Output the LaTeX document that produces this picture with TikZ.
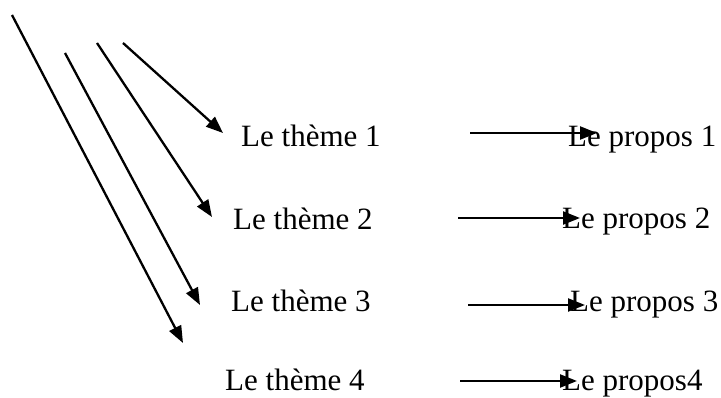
\documentclass[tikz,border=0pt]{standalone}
\usepackage{fontspec}
\setmainfont{Liberation Serif}
\usetikzlibrary{arrows.meta}
\begin{document}
\begin{tikzpicture}[x=1pt,y=-1pt,
  label/.style={anchor=base west,inner sep=0pt,font=\fontsize{31}{36}\selectfont},
  link/.style={line width=2.3pt,-{Triangle[length=17pt,width=13pt]}}]
\useasboundingbox (0,0) rectangle (721,398);
% themes and their propos
\node[label] (t1) at (241,147) {Le thème 1};
\node[label] (t2) at (233,230) {Le thème 2};
\node[label] (t3) at (231,312) {Le thème 3};
\node[label] (t4) at (225,391) {Le thème 4};
\node[label] (p1) at (568,147) {Le propos 1};
\node[label] (p2) at (562,229) {Le propos 2};
\node[label] (p3) at (570,312) {Le propos 3};
\node[label] (p4) at (562,391) {Le propos4};
% diagonal arrows towards the themes
\coordinate (s1) at (123,43);  \coordinate (e1) at (223,133);
\coordinate (s2) at (97,43);   \coordinate (e2) at (212,217);
\coordinate (s3) at (65,53);   \coordinate (e3) at (200,305);
\coordinate (s4) at (12,15);   \coordinate (e4) at (183,343);
\draw[link] (s1) -- (e1);
\draw[link] (s2) -- (e2);
\draw[link] (s3) -- (e3);
\draw[link] (s4) -- (e4);
% horizontal arrows towards the propos
\coordinate (h1) at (470,133); \coordinate (k1) at (597,133);
\coordinate (h2) at (458,218); \coordinate (k2) at (580,218);
\coordinate (h3) at (468,305); \coordinate (k3) at (585,305);
\coordinate (h4) at (460,381); \coordinate (k4) at (577,381);
\draw[link] (h1) -- (k1);
\draw[link] (h2) -- (k2);
\draw[link] (h3) -- (k3);
\draw[link] (h4) -- (k4);
\end{tikzpicture}
\end{document}
